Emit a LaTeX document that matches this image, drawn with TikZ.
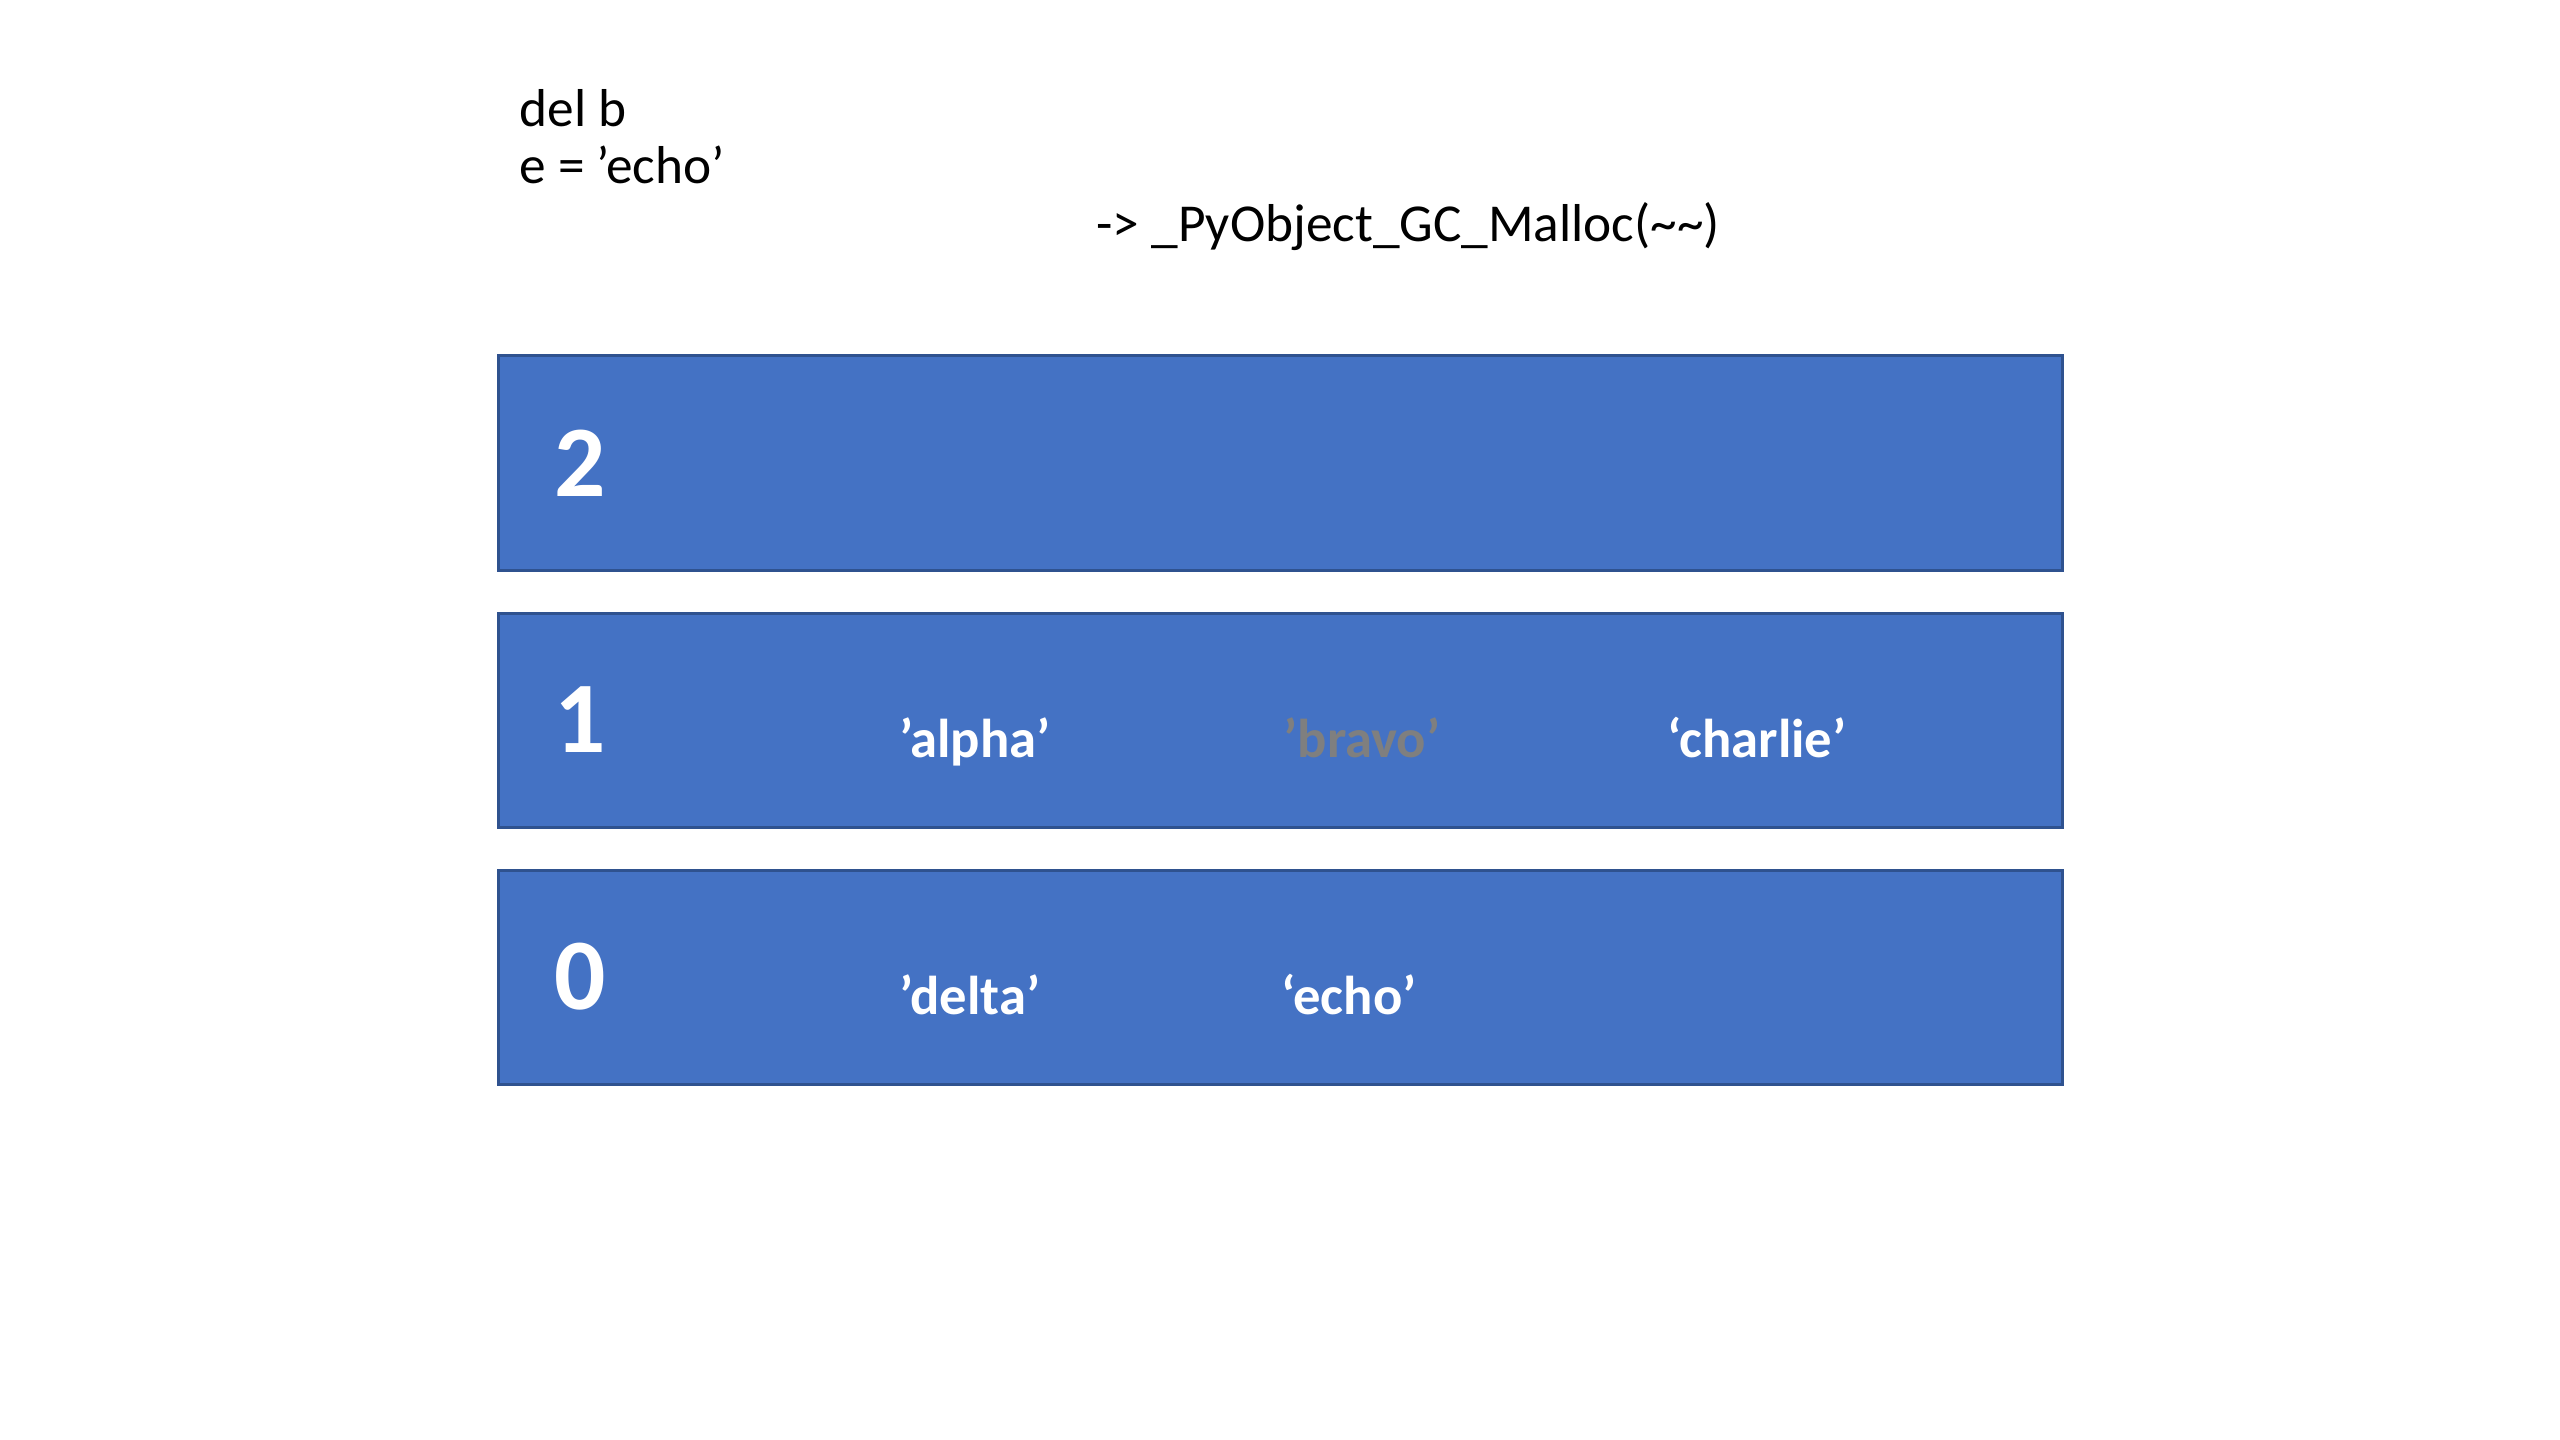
\documentclass[tikz,border=0pt]{standalone}
\usepackage{fontspec}
\setmainfont{Carlito}
\usepackage{xcolor}
\definecolor{genfill}{RGB}{68,114,196}
\definecolor{gendraw}{RGB}{47,82,143}
\definecolor{deadgray}{RGB}{127,127,127}

\begin{document}
\begin{tikzpicture}[x=0.375pt,y=0.375pt,yscale=-1,xscale=1,
  genbox/.style={draw=gendraw,fill=genfill,line width=1.125pt,minimum width=586.5pt,minimum height=80.25pt,inner sep=0pt},
  gennum/.style={text=white,font=\fontsize{38}{40}\selectfont\bfseries,inner sep=0pt},
  objname/.style={anchor=base,text=white,font=\fontsize{20.5}{24}\selectfont\bfseries,inner sep=0pt},
  codeline/.style={anchor=base west,font=\fontsize{20}{24}\selectfont,inner sep=0pt}]
\useasboundingbox (0,0) rectangle (2560,1440);

% code text
\node[codeline] (delb) at (519,127) {del b};
\node[codeline] (asgn) at (519,184) {e = ’echo’};
\node[codeline] (malloc) at (1096,242) {-> \_PyObject\_GC\_Malloc(\textasciitilde\textasciitilde)};

% generations
\node[genbox] (gen2) at (1280,463) {};
\node[genbox] (gen1) at (1280,720) {};
\node[genbox] (gen0) at (1280,977) {};

\node[gennum] (n2) at (580,463) {2};
\node[gennum] (n1) at (580,720) {1};
\node[gennum] (n0) at (580,977) {0};

% objects
\node[objname] (alpha) at (975,757) {’alpha’};
\node[objname,text=deadgray] (bravo) at (1362,757) {’bravo’};
\node[objname] (charlie) at (1757,757) {‘charlie’};
\node[objname] (delta) at (970,1014) {’delta’};
\node[objname] (echo) at (1349,1014) {‘echo’};

\end{tikzpicture}
\end{document}
